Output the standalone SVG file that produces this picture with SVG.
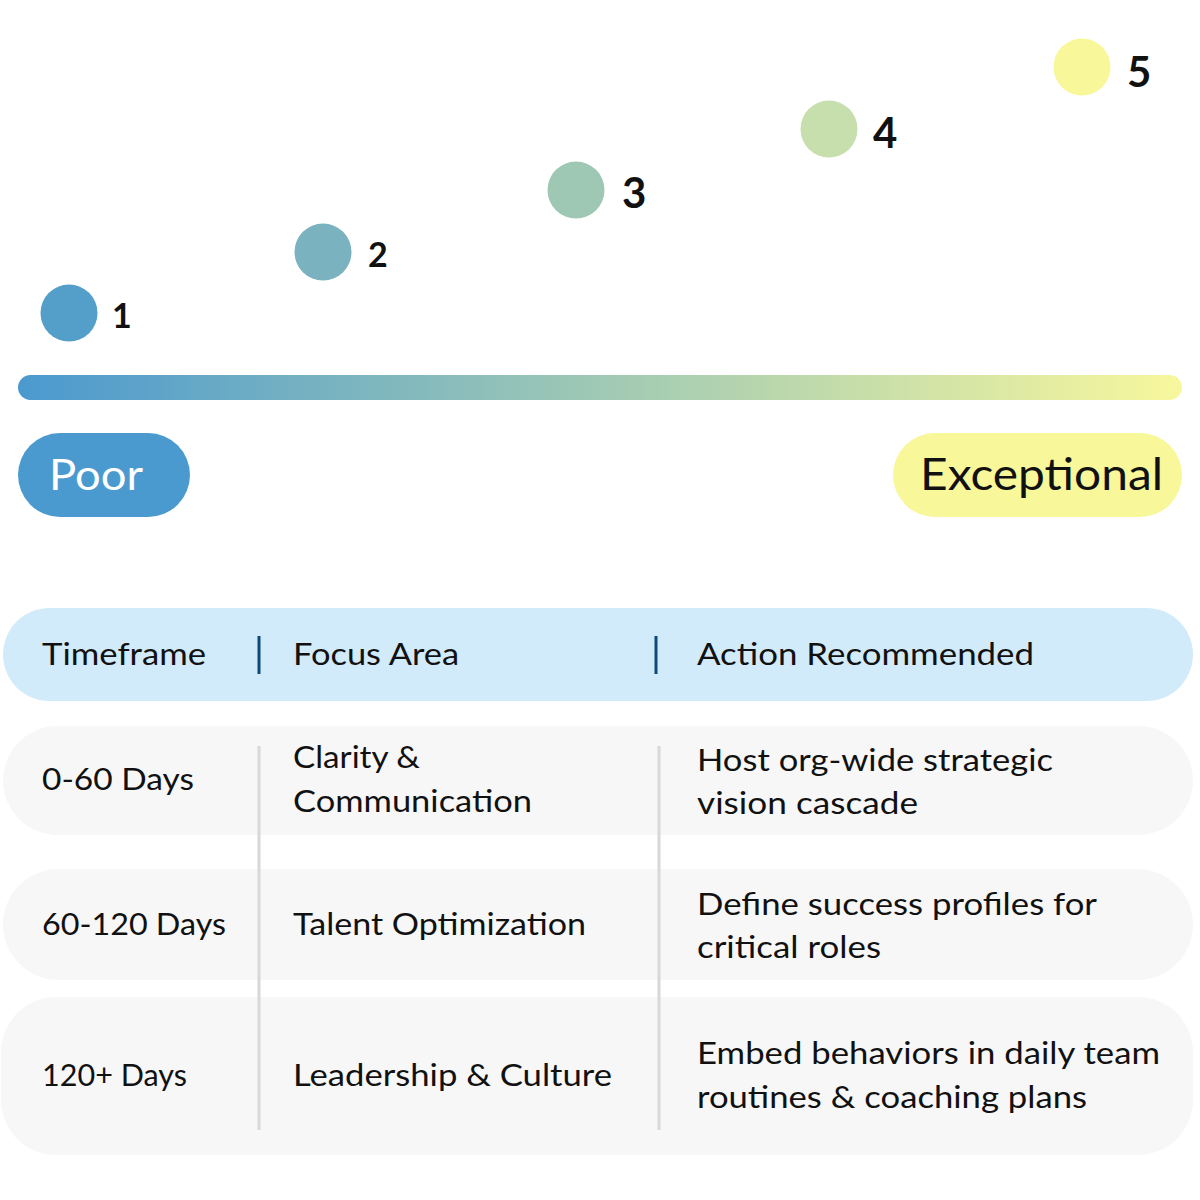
<svg xmlns="http://www.w3.org/2000/svg" width="1200" height="1200" viewBox="0 0 1200 1200">
<defs>
<linearGradient id="barGrad" x1="0" y1="0" x2="1" y2="0">
<stop offset="0" stop-color="#4b99cf"/>
<stop offset="0.5" stop-color="#9fc9b4"/>
<stop offset="1" stop-color="#f8f79c"/>
</linearGradient>
<style>
text{font-family:"Lato","Open Sans","Liberation Sans",sans-serif;fill:#111;}
.num{font-weight:700;}
.cell{font-size:30px;}
.sep{stroke:#d8d8d8;stroke-width:3;}
.hsep{stroke:#0d4a7a;stroke-width:3;}
.row{fill:#f7f7f7;}
</style>
</defs>
<rect width="1200" height="1200" fill="#ffffff"/>

<g id="scale">
<g id="level1"><circle cx="69" cy="313" r="28.5" fill="#539fca"/><text class="num" x="112" y="328" font-size="34">1</text></g>
<g id="level2"><circle cx="323" cy="252" r="28.5" fill="#7bb2bf"/><text class="num" x="368" y="267" font-size="34">2</text></g>
<g id="level3"><circle cx="576" cy="190" r="28.5" fill="#9fc8b4"/><text class="num" x="622" y="208" font-size="42">3</text></g>
<g id="level4"><circle cx="829" cy="129" r="28.5" fill="#c7dfac"/><text class="num" x="873" y="148" font-size="42">4</text></g>
<g id="level5"><circle cx="1082" cy="67" r="28.5" fill="#f8f79a"/><text class="num" x="1127" y="87" font-size="42">5</text></g>
<rect id="bar" x="18" y="375" width="1164" height="25" rx="12.5" fill="url(#barGrad)"/>
<g id="poor"><rect x="18" y="433" width="172" height="84" rx="42" fill="#4b9acf"/><text x="49" y="490" font-size="42" style="fill:#ffffff" textLength="94" lengthAdjust="spacingAndGlyphs">Poor</text></g>
<g id="exceptional"><rect x="893" y="433" width="289" height="84" rx="42" fill="#f8f79a"/><text x="920" y="490" font-size="44" textLength="243" lengthAdjust="spacingAndGlyphs">Exceptional</text></g>
</g>

<g id="header">
<rect x="3" y="608" width="1190" height="93" rx="46.5" fill="#d2ebfb"/>
<text class="cell" x="42" y="665" textLength="164" lengthAdjust="spacingAndGlyphs">Timeframe</text>
<text class="cell" x="293" y="665" textLength="166" lengthAdjust="spacingAndGlyphs">Focus Area</text>
<text class="cell" x="697" y="665" textLength="337" lengthAdjust="spacingAndGlyphs">Action Recommended</text>
<line class="hsep" x1="259" y1="636" x2="259" y2="674"/>
<line class="hsep" x1="656" y1="636" x2="656" y2="674"/>
</g>

<g id="row1">
<rect class="row" x="3" y="726" width="1190" height="109" rx="54.5"/>
<text class="cell" x="42" y="790" textLength="152" lengthAdjust="spacingAndGlyphs">0-60 Days</text>
<text class="cell" x="293" y="768" textLength="127" lengthAdjust="spacingAndGlyphs">Clarity &amp;</text>
<text class="cell" x="293" y="812" textLength="239" lengthAdjust="spacingAndGlyphs">Communication</text>
<text class="cell" x="697" y="771" textLength="356" lengthAdjust="spacingAndGlyphs">Host org-wide strategic</text>
<text class="cell" x="697" y="814" textLength="221" lengthAdjust="spacingAndGlyphs">vision cascade</text>
</g>

<g id="row2">
<rect class="row" x="3" y="869" width="1190" height="111" rx="55.5"/>
<text class="cell" x="42" y="935" textLength="184" lengthAdjust="spacingAndGlyphs">60-120 Days</text>
<text class="cell" x="293" y="935" textLength="293" lengthAdjust="spacingAndGlyphs">Talent Optimization</text>
<text class="cell" x="697" y="915" textLength="400" lengthAdjust="spacingAndGlyphs">Define success profiles for</text>
<text class="cell" x="697" y="958" textLength="184" lengthAdjust="spacingAndGlyphs">critical roles</text>
</g>

<g id="row3">
<rect class="row" x="1" y="997" width="1192" height="158" rx="55"/>
<text class="cell" x="42" y="1086" textLength="145" lengthAdjust="spacingAndGlyphs">120+ Days</text>
<text class="cell" x="293" y="1086" textLength="319" lengthAdjust="spacingAndGlyphs">Leadership &amp; Culture</text>
<text class="cell" x="697" y="1064" textLength="463" lengthAdjust="spacingAndGlyphs">Embed behaviors in daily team</text>
<text class="cell" x="697" y="1108" textLength="390" lengthAdjust="spacingAndGlyphs">routines &amp; coaching plans</text>
</g>

<g id="connectors">
<line class="sep" x1="259" y1="746" x2="259" y2="1130"/>
<line class="sep" x1="659" y1="746" x2="659" y2="1130"/>
</g>
</svg>
